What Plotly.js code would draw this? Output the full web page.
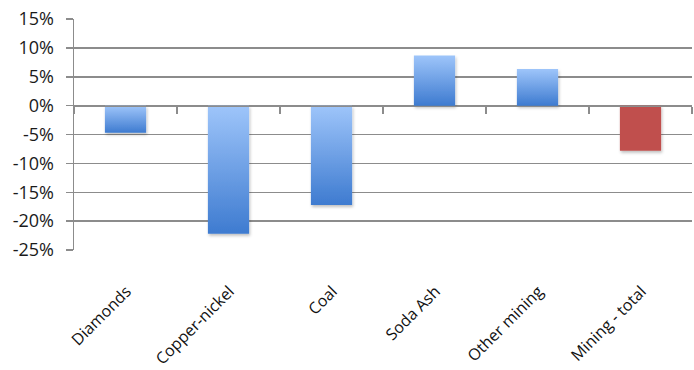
<!DOCTYPE html>
<html>
<head>
<meta charset="utf-8">
<script src="https://cdn.plot.ly/plotly-3.0.1.min.js"></script>
<style>
html,body{margin:0;padding:0;background:#fff;}
#chart{width:694px;height:370px;}
</style>
</head>
<body>
<div id="chart"></div>
<script>
// Data
const categories = ['Diamonds', 'Copper-nickel', 'Coal', 'Soda Ash', 'Other mining', 'Mining - total'];
const values = [-4.7, -22.2, -17.2, 8.7, 6.35, -7.8];
const yTickVals = [-25, -20, -15, -10, -5, 0, 5, 10, 15];
const yTickText = ['-25%', '-20%', '-15%', '-10%', '-5%', '0%', '5%', '10%', '15%'];

// Styles
const blue = '#6b9de3';
const red = '#c0504d';
const totalCategory = 'Mining - total';
const barColors = categories.map(c => c === totalCategory ? red : blue);
const gridColor = '#8c8c8c';
const fam = 'Open Sans, DejaVu Sans, sans-serif';

const yMin = -25, yMax = 15;
const zeroPos = (0 - yMin) / (yMax - yMin);

const traces = [
  {
    type: 'bar', x: categories, y: values, width: 0.4,
    marker: {color: barColors, line: {width: 0}},
    hoverinfo: 'none', xaxis: 'x', yaxis: 'y'
  },
  {
    type: 'scatter', mode: 'markers', x: categories, y: categories.map(() => null),
    xaxis: 'x2', yaxis: 'y', showlegend: false, hoverinfo: 'none'
  }
];

const layout = {
  width: 694, height: 370,
  margin: {l: 74, r: 2, t: 19, b: 120},
  paper_bgcolor: '#fff', plot_bgcolor: '#fff',
  showlegend: false,
  font: {family: fam, size: 16, color: '#111'},
  xaxis: {
    type: 'category', categoryorder: 'array', categoryarray: categories,
    range: [-0.5, categories.length - 0.5],
    tickangle: -45, ticks: '', showline: false, showgrid: false, zeroline: false,
    tickfont: {family: fam, size: 16, color: '#111'},
    ticklabelshift: 1, ticklabelstandoff: 28
  },
  xaxis2: {
    type: 'category', categoryorder: 'array', categoryarray: categories,
    range: [-0.5, categories.length - 0.5],
    overlaying: 'x', anchor: 'free', position: zeroPos, side: 'bottom',
    showline: true, linecolor: gridColor, linewidth: 1.5,
    ticks: 'outside', tickson: 'boundaries', ticklen: 7, tickwidth: 1.5, tickcolor: gridColor,
    showticklabels: false, showgrid: false, zeroline: false
  },
  yaxis: {
    range: [yMin, yMax], tickvals: yTickVals, ticktext: yTickText,
    showgrid: true, gridcolor: gridColor, gridwidth: 1.5,
    zeroline: false,
    showline: true, linecolor: gridColor, linewidth: 1.5,
    ticks: 'outside', ticklen: 7, tickwidth: 1.5, tickcolor: gridColor,
    ticklabelstandoff: 8,
    tickfont: {family: fam, size: 18, color: '#1a1a1a'}
  }
};

Plotly.newPlot('chart', traces, layout, {staticPlot: true, displayModeBar: false}).then(gd => {
  // vertical gradient + soft shadow for the blue bars (styling only)
  const svgNS = 'http://www.w3.org/2000/svg';
  const svg = gd.querySelector('.main-svg');
  const defs = document.createElementNS(svgNS, 'defs');
  defs.innerHTML =
    '<linearGradient id="blueGrad" x1="0" y1="0" x2="0" y2="1">' +
    '<stop offset="0" stop-color="#9ec5fa"/><stop offset="1" stop-color="#3e7bd0"/></linearGradient>' +
    '<filter id="shadow" x="-20%" y="-20%" width="140%" height="140%">' +
    '<feDropShadow dx="1" dy="2" stdDeviation="1.5" flood-color="#000" flood-opacity="0.25"/></filter>';
  svg.insertBefore(defs, svg.firstChild);
  gd.querySelectorAll('.bars .point path').forEach((p, i) => {
    if (barColors[i] === blue) p.style.fill = 'url(#blueGrad)';
    p.setAttribute('filter', 'url(#shadow)');
  });
});
</script>
</body>
</html>
